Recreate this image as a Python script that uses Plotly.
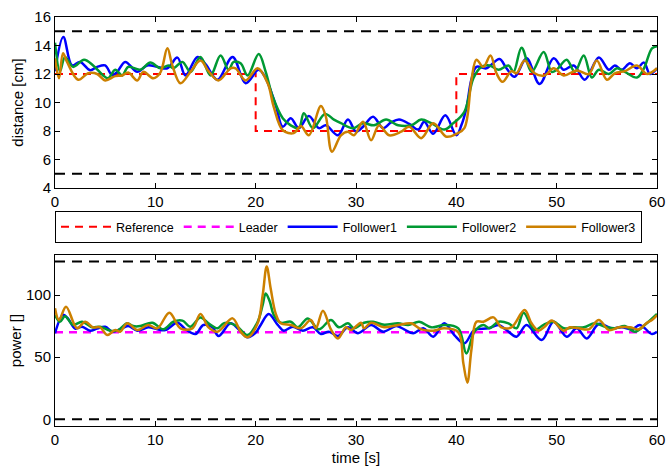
import plotly.graph_objects as go

# ---------------- data ----------------
ref_t = [0, 20, 40, 60]
ref_v = [12, 8, 12, 12]

dist_limits = [15, 5]
power_limits = [127, 0]
limit_t = [0, 60]

leader_t = [0, 60]
leader_v = [70, 70]

d1_t = [0, 0.83, 1.7, 2.5, 3.5, 4.2, 5, 5.7, 6.2, 7, 8.2, 9.2, 10.2, 11.2, 12.2, 13, 14.2, 15, 16.2, 17.7, 19,
        20.3, 21, 22, 22.7, 23.5, 24.3, 25.3, 26.3, 27, 28.2, 29.2, 30, 30.7, 31.7, 32.7, 33.5, 34.3, 35.3, 36.2,
        36.8, 37.7, 38.9, 40, 40.5, 41, 41.5, 42, 43, 44.3, 45, 45.8, 47, 48.3, 49.7, 50.7, 51.7, 52.8, 54.2,
        55.2, 55.8, 56.5, 57.3, 58, 58.7, 59.3, 60]
d1_v = [12.2, 14.6, 12.6, 12.85, 12.27, 12.5, 12.6, 11.9, 12.15, 12.85, 12.15, 12.6, 12.5, 12.4, 13.15, 11.9,
        13.2, 12.7, 11.6, 13.2, 11.35, 12.3, 11.7, 9.8, 8.3, 8.9, 8.2, 9.05, 8.2, 8.4, 7.7, 8.8, 7.95, 8.3, 9.0,
        8.2, 8.6, 8.8, 8.5, 8.1, 8.65, 7.8, 9.1, 7.7, 8.4, 9.6, 11.6, 12.5, 12.4, 13.05, 12.4, 11.8, 13.1, 11.3,
        13.1, 12.3, 12.6, 11.6, 13.15, 12.3, 12.6, 12.3, 12.75, 12.4, 12.8, 12.0, 12.4]

d2_t = [0, 0.5, 1.0, 1.8, 2.9, 3.8, 4.8, 5.3, 6.0, 6.7, 7.3, 8.5, 9.5, 10.5, 11.3, 11.8, 12.7, 13.5, 14.5, 15.5,
        16.5, 17.3, 17.8, 18.5, 19.2, 20.3, 21.0, 21.7, 22.7, 23.5, 24.3, 24.8, 25.7, 26.9, 27.8, 28.5, 29.7,
        30.7, 31.8, 33, 34.2, 35.5, 36.5, 37.5, 38.8, 39.7, 40.8, 41.7, 42.5, 43.3, 44.2, 45.2, 45.7, 46.5, 47.5,
        48.7, 49.5, 50, 51, 51.8, 52.7, 53.5, 54.2, 55.2, 56, 56.8, 58, 58.7, 59.5, 60]
d2_v = [14.2, 12.2, 13.2, 12.5, 13.0, 12.6, 11.9, 11.7, 12.3, 11.9, 12.5, 12.3, 12.8, 12.4, 12.6, 12.4, 12.85,
        12.15, 13.2, 11.9, 13.3, 12.3, 12.85, 12.75, 11.9, 13.4, 12.15, 10.4, 8.9, 8.4, 8.2, 9.25, 8.2, 9.2, 8.8,
        8.55, 8.2, 8.55, 8.4, 8.8, 8.4, 8.4, 8.8, 8.55, 8.1, 8.55, 9.35, 11.7, 12.5, 12.6, 12.3, 12.6, 12.15,
        13.85, 12.15, 13.55, 12.15, 12.3, 13.0, 12.15, 13.3, 11.75, 12.3, 12.0, 12.4, 12.15, 11.75, 12.4, 13.8,
        13.95]

d3_t = [0, 0.4, 0.8, 1.2, 2.3, 3.3, 4.2, 5.0, 6.0, 6.7, 7.3, 8.2, 8.8, 9.8, 10.5, 11.2, 11.7, 12.5, 13.5, 14.5,
        15.3, 16.3, 17.5, 18.0, 19.0, 20.2, 21.2, 21.8, 22.7, 23.8, 24.5, 25.3, 26.5, 27.0, 27.6, 28.5, 29.2,
        29.8, 30.7, 31.5, 32.3, 33.3, 34.5, 35.3, 36.5, 37.7, 39.0, 40.0, 40.8, 41.5, 42.0, 42.7, 43.4, 44.0,
        44.6, 45.5, 46.0, 46.8, 47.8, 48.8, 49.7, 50.7, 52.0, 53.2, 54.0, 55.0, 55.8, 56.8, 58.0, 59.0, 60]
d3_v = [13.1, 11.7, 13.45, 12.85, 11.6, 12.05, 12.0, 11.55, 11.85, 11.9, 12.1, 11.55, 12.15, 11.7, 12.1, 13.8,
        12.6, 11.35, 12.15, 12.95, 12.2, 11.55, 12.4, 12.4, 11.55, 12.4, 11.35, 9.7, 8.05, 7.85, 8.35, 7.7, 9.75,
        9.0, 6.55, 7.7, 7.95, 7.7, 8.65, 7.35, 8.4, 7.7, 7.95, 8.3, 7.5, 8.55, 7.6, 7.8, 8.2, 11.55, 13.0, 12.5,
        13.3, 12.05, 11.45, 12.2, 12.05, 12.95, 12.05, 11.9, 12.4, 11.9, 12.25, 12.0, 12.95, 11.6, 12.05, 12.2,
        12.6, 12.0, 12.4]

p1_t = [0, 0.8, 1.3, 2, 2.7, 3.5, 4.2, 5, 5.7, 6.5, 7.3, 8.2, 9.3, 10.2, 11, 12.2, 13, 14, 14.8, 15.7, 16.3,
        17.5, 18.3, 19.2, 20, 20.5, 21.3, 22.2, 22.8, 23.7, 24.7, 25.7, 26.5, 27.3, 28.2, 29.2, 30.2, 31.5, 32.7,
        34, 34.8, 35.7, 36.7, 37.7, 38.8, 39.8, 40.8, 41.8, 43.2, 44.2, 45, 46, 47, 48.5, 49.7, 51, 52, 53, 54.2,
        55.5, 56.5, 57.5, 58.3, 59.5, 60]
p1_v = [69.2, 84, 81, 73, 74.5, 71.3, 73, 74.5, 70.5, 72.5, 75, 71.3, 74, 72.4, 71.8, 77.7, 72.5, 68.6, 75.9,
        74, 67, 77.2, 72.4, 66, 69.7, 75.9, 84.7, 75.9, 71.3, 74.5, 71.3, 74, 68.6, 70.5, 67, 74, 69.2, 75.9,
        70.5, 75, 72.4, 69.2, 73.2, 66.5, 77.2, 67.8, 61.1, 71.8, 73.2, 75.9, 71.8, 66.5, 75.9, 63.8, 78.5, 66.5,
        73.2, 65.1, 76.7, 73.2, 74, 72.4, 75.9, 68.6, 70.5]

p2_t = [0, 0.5, 1, 1.8, 2.7, 3.7, 4.5, 5.5, 6.3, 7.2, 7.8, 8.5, 9.7, 10.8, 11.8, 12.7, 13.5, 14.5, 15.3, 16.2,
        16.8, 17.5, 18.2, 19.2, 20.2, 20.7, 21, 21.4, 21.8, 22.5, 23.5, 24.2, 25.2, 26.3, 27.5, 28.3, 29.2, 29.8,
        30.8, 31.7, 32.8, 34.2, 35.2, 36.3, 37.5, 38.8, 40.2, 41, 41.8, 42.7, 43.3, 44.2, 45.2, 46, 46.7, 47.8,
        48.7, 49.7, 50.7, 51.7, 52.7, 53.8, 54.8, 55.8, 56.8, 57.8, 58.8, 60]
p2_v = [84, 78.5, 83, 75.9, 78.5, 74, 74.5, 71.3, 71.8, 77.2, 75, 75, 77.7, 72.4, 78.5, 79.4, 74.5, 82, 77.2,
        73.2, 77.2, 77.2, 74.5, 67.8, 78.5, 92, 101.3, 95, 84, 77.7, 78.5, 74, 81.2, 72.4, 79.9, 74, 77.2, 73.2,
        77.7, 78.5, 76, 77.2, 75.9, 78.5, 74, 75.9, 73.2, 53, 70.5, 75.9, 73.2, 78.5, 77.2, 73.2, 85.8, 71.8, 76,
        78.5, 73.2, 74, 74, 77.2, 74.5, 73.2, 75, 70.5, 76, 84.7]

p3_t = [0, 0.4, 1.1, 2.2, 3, 3.8, 4.5, 5.2, 6, 6.5, 7.2, 8.2, 9.3, 10.2, 11.4, 12.5, 13.7, 14.5, 15.3, 16.2,
        17.7, 18.5, 19.2, 20.2, 20.7, 21.1, 21.5, 22, 22.5, 23.5, 24.5, 25.5, 26, 26.7, 27.5, 28.2, 29, 29.5,
        30.5, 30.8, 31.5, 32.8, 34.2, 35.5, 36.5, 37.7, 38.8, 40.2, 40.7, 41.1, 41.5, 42, 42.7, 43.7, 44.5, 45.5,
        46.8, 47.5, 48.2, 48.8, 49.5, 50.7, 51.3, 52.2, 53.2, 54.2, 55.2, 56.2, 57.3, 58.2, 59, 59.5, 60]
p3_v = [89.3, 79.9, 90.6, 73.2, 78.5, 74, 74, 67.8, 71.8, 70.5, 77.2, 71.8, 75.9, 73.2, 85.8, 73.2, 73.2, 84.7,
        74, 70.5, 81.2, 70.5, 66, 77.2, 100, 123, 105, 85, 77.2, 75.9, 73.2, 79.9, 73.2, 87.4, 72.4, 65.1, 74,
        71.8, 77.7, 73.2, 77.7, 74, 75.9, 77.2, 72.4, 71.3, 73.2, 70, 45, 29.5, 55.8, 78.5, 78.5, 82, 74, 74,
        87.9, 77.2, 71.3, 74.5, 79.4, 71.3, 74, 73.2, 72.4, 79.9, 71.8, 74, 74, 72.4, 77.7, 79.9, 83.9]

# ---------------- styles ----------------
BLUE = "#0000FF"
GREEN = "#009933"
ORANGE = "#CC8000"
RED = "#FF0000"
MAGENTA = "#FF00FF"
FONT = "Liberation Sans, Arial, Helvetica, sans-serif"

fig = go.Figure()

# limit lines (black dashed)
for v in dist_limits:
    fig.add_trace(go.Scatter(x=limit_t, y=[v, v], mode="lines", showlegend=False, hoverinfo="skip",
                             line=dict(color="black", width=2, dash="10px,7px"), xaxis="x", yaxis="y"))
for v in power_limits:
    fig.add_trace(go.Scatter(x=limit_t, y=[v, v], mode="lines", showlegend=False, hoverinfo="skip",
                             line=dict(color="black", width=2, dash="10px,7px"), xaxis="x2", yaxis="y2"))

fig.add_trace(go.Scatter(x=ref_t, y=ref_v, mode="lines", name="Reference", legendrank=1,
                         line=dict(color=RED, width=2, dash="8px,6px", shape="hv"), xaxis="x", yaxis="y"))
fig.add_trace(go.Scatter(x=leader_t, y=leader_v, mode="lines", name="Leader", legendrank=2,
                         line=dict(color=MAGENTA, width=2.5, dash="8px,6px"), xaxis="x2", yaxis="y2"))

series = [("Follower1", BLUE, d1_t, d1_v, p1_t, p1_v, 3),
          ("Follower2", GREEN, d2_t, d2_v, p2_t, p2_v, 4),
          ("Follower3", ORANGE, d3_t, d3_v, p3_t, p3_v, 5)]
for name, col, dt, dv, pt, pv, rank in series:
    fig.add_trace(go.Scatter(x=dt, y=dv, mode="lines", name=name, legendgroup=name, legendrank=rank,
                             line=dict(color=col, width=2.5, shape="spline", smoothing=1.0),
                             xaxis="x", yaxis="y"))
    fig.add_trace(go.Scatter(x=pt, y=pv, mode="lines", name=name, legendgroup=name, showlegend=False,
                             line=dict(color=col, width=2.5, shape="spline", smoothing=1.0),
                             xaxis="x2", yaxis="y2"))

axis_common = dict(showline=True, linecolor="black", linewidth=1, mirror="ticks", ticks="inside",
                   ticklen=5, tickcolor="black", showgrid=False, zeroline=False, automargin=False,
                   tickfont=dict(family=FONT, size=15, color="black"))

fig.update_layout(
    width=666, height=466,
    margin=dict(l=55, r=9, t=17, b=40, autoexpand=False),
    paper_bgcolor="white", plot_bgcolor="white",
    font=dict(family=FONT, size=15, color="black"),
    xaxis=dict(domain=[0, 1], range=[0, 60], tickvals=[0, 10, 20, 30, 40, 50, 60], anchor="y", **axis_common),
    yaxis=dict(domain=[0.5819, 1], range=[4, 16], tickvals=[4, 6, 8, 10, 12, 14, 16], anchor="x",
               title=dict(text="distance [cm]", font=dict(family=FONT, size=15), standoff=7), **axis_common),
    xaxis2=dict(domain=[0, 1], range=[0, 60], tickvals=[0, 10, 20, 30, 40, 50, 60], anchor="y2",
                title=dict(text="time [s]", font=dict(family=FONT, size=15), standoff=5), **axis_common),
    yaxis2=dict(domain=[0, 0.4181], range=[-5.4, 132.2], tickvals=[0, 50, 100], anchor="x2",
                title=dict(text="power []", font=dict(family=FONT, size=15), standoff=0), **axis_common),
    legend=dict(orientation="h", x=0.0, y=0.5256, xanchor="left", yanchor="top",
                bordercolor="black", borderwidth=1, bgcolor="white",
                font=dict(family=FONT, size=12.5, color="black"), itemwidth=50,
                traceorder="normal", tracegroupgap=0),
    showlegend=True,
)

fig.write_html("out.html", config={"displayModeBar": False},
               post_script="document.body.style.margin='0';document.body.style.padding='0';")
